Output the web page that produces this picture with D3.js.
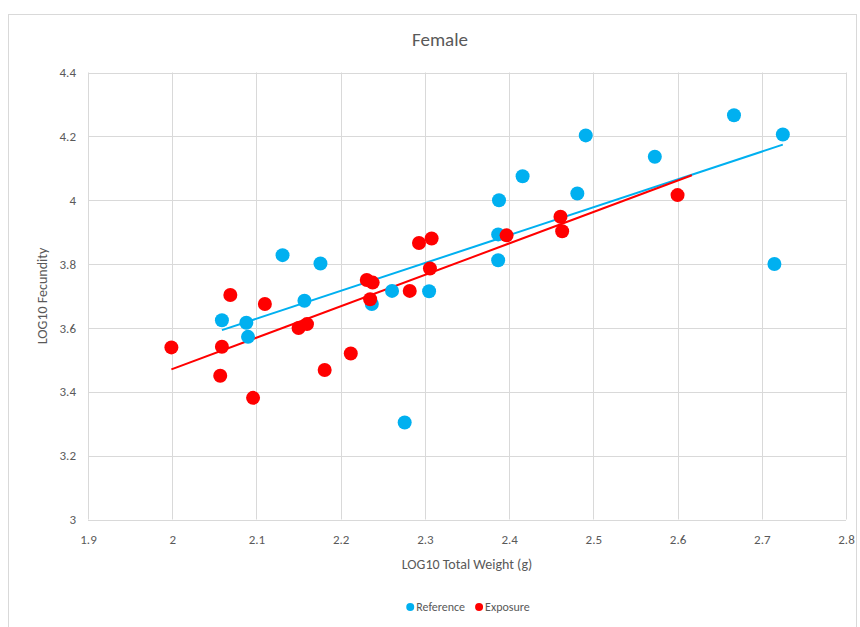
<!DOCTYPE html>
<html>
<head>
<meta charset="utf-8">
<script src="https://cdn.jsdelivr.net/npm/d3@7"></script>
<style>
  html, body { margin: 0; padding: 0; background: #fff; }
  svg text { font-family: Carlito, "Liberation Sans Narrow", "DejaVu Sans Condensed", "Open Sans", sans-serif; }
</style>
</head>
<body>
<div id="chart"></div>
<script>
// values
const refX = [2.131, 2.176, 2.157, 2.059, 2.088, 2.090, 2.237, 2.261, 2.305, 2.388,
              2.416, 2.387, 2.387, 2.491, 2.481, 2.573, 2.276, 2.667, 2.725, 2.715];
const refY = [3.828, 3.802, 3.685, 3.624, 3.616, 3.572, 3.675, 3.716, 3.715, 4.000,
              4.075, 3.893, 3.812, 4.203, 4.021, 4.136, 3.304, 4.266, 4.206, 3.800];

const expX = [2.231, 2.238, 2.069, 2.110, 2.150, 2.160, 1.999, 2.059, 2.057, 2.096,
              2.181, 2.212, 2.235, 2.282, 2.293, 2.308, 2.306, 2.397, 2.461, 2.463, 2.600];
const expY = [3.750, 3.742, 3.703, 3.675, 3.600, 3.612, 3.539, 3.541, 3.450, 3.381,
              3.468, 3.520, 3.690, 3.716, 3.866, 3.880, 3.786, 3.890, 3.948, 3.903, 4.016];

// linear trendline end points (x, y)
const refTrendX = [2.059, 2.725];
const refTrendY = [3.593, 4.174];
const expTrendX = [1.999, 2.617];
const expTrendY = [3.470, 4.078];

const xTicks = [1.9, 2, 2.1, 2.2, 2.3, 2.4, 2.5, 2.6, 2.7, 2.8];
const yTicks = [3, 3.2, 3.4, 3.6, 3.8, 4, 4.2, 4.4];

const series = [
    { name: 'Reference', color: '#00B0F0', xs: refX, ys: refY, tx: refTrendX, ty: refTrendY },
    { name: 'Exposure',  color: '#FF0000', xs: expX, ys: expY, tx: expTrendX, ty: expTrendY }
];

const width = 860, height = 627;
const margin = { top: 72.5, right: 14, bottom: 107.5, left: 88 };

const svg = d3.select('#chart')
    .append('svg')
    .attr('width', width)
    .attr('height', height);

// chart border
svg.append('rect')
    .attr('x', 8.5).attr('y', 14.5)
    .attr('width', 848).attr('height', 640)
    .attr('fill', '#fff')
    .attr('stroke', '#d9d9d9');

const x = d3.scaleLinear().domain([1.9, 2.8]).range([margin.left, width - margin.right]);
const y = d3.scaleLinear().domain([3, 4.4]).range([height - margin.bottom, margin.top]);

// gridlines
const grid = svg.append('g').attr('stroke', '#d9d9d9').attr('stroke-width', 1);
grid.selectAll('line.v')
    .data(xTicks)
    .join('line')
    .attr('class', 'v')
    .attr('x1', d => Math.round(x(d)) + 0.5).attr('x2', d => Math.round(x(d)) + 0.5)
    .attr('y1', y(4.4)).attr('y2', y(3));
grid.selectAll('line.h')
    .data(yTicks)
    .join('line')
    .attr('class', 'h')
    .attr('x1', x(1.9)).attr('x2', x(2.8))
    .attr('y1', d => Math.round(y(d)) + 0.5).attr('y2', d => Math.round(y(d)) + 0.5);

// axes (labels only, Excel style)
const xAxis = svg.append('g')
    .attr('transform', `translate(0,${y(3) + 10})`)
    .call(d3.axisBottom(x).tickValues(xTicks).tickSize(0).tickFormat(d3.format('')));
const yAxis = svg.append('g')
    .attr('transform', `translate(${x(1.9) - 9},0)`)
    .call(d3.axisLeft(y).tickValues(yTicks).tickSize(0).tickFormat(d3.format('')));
[xAxis, yAxis].forEach(a => {
    a.select('.domain').remove();
    a.selectAll('text').attr('fill', '#595959').style('font-size', '13px');
});
xAxis.selectAll('text').attr('dy', '0.9em');

// trendlines
svg.append('g')
    .selectAll('line')
    .data(series)
    .join('line')
    .attr('x1', d => x(d.tx[0])).attr('y1', d => y(d.ty[0]))
    .attr('x2', d => x(d.tx[1])).attr('y2', d => y(d.ty[1]))
    .attr('stroke', d => d.color)
    .attr('stroke-width', 2);

// points
series.forEach(s => {
    svg.append('g')
        .selectAll('circle')
        .data(s.xs.map((v, i) => [v, s.ys[i]]))
        .join('circle')
        .attr('cx', d => x(d[0]))
        .attr('cy', d => y(d[1]))
        .attr('r', 7)
        .attr('fill', s.color);
});

// title
svg.append('text')
    .attr('x', 440).attr('y', 46)
    .attr('text-anchor', 'middle')
    .attr('fill', '#595959')
    .style('font-size', '19px')
    .text('Female');

// axis titles
svg.append('text')
    .attr('x', (x(1.9) + x(2.8)) / 2).attr('y', 569)
    .attr('text-anchor', 'middle')
    .attr('fill', '#595959')
    .style('font-size', '14px')
    .text('LOG10 Total Weight (g)');

svg.append('text')
    .attr('transform', `translate(47,${(y(3) + y(4.4)) / 2}) rotate(-90)`)
    .attr('text-anchor', 'middle')
    .attr('fill', '#595959')
    .style('font-size', '14px')
    .text('LOG10 Fecundity');

// legend: lay items out one after another, centred under the plot
const legend = svg.append('g');
const items = legend.selectAll('g')
    .data(series)
    .join('g');
items.append('circle')
    .attr('r', 4)
    .attr('fill', d => d.color);
items.append('text')
    .attr('x', 6).attr('dy', '0.35em')
    .attr('fill', '#595959')
    .style('font-size', '12px')
    .text(d => d.name);

let offset = 0;
items.each(function() {
    const w = this.querySelector('text').getComputedTextLength();
    d3.select(this).attr('transform', `translate(${offset},0)`);
    offset += 4 + 6 + w + 10;
});
const legendWidth = offset - 10 + 4;
legend.attr('transform', `translate(${470 - legendWidth / 2 + 4},607)`);
</script>
</body>
</html>
